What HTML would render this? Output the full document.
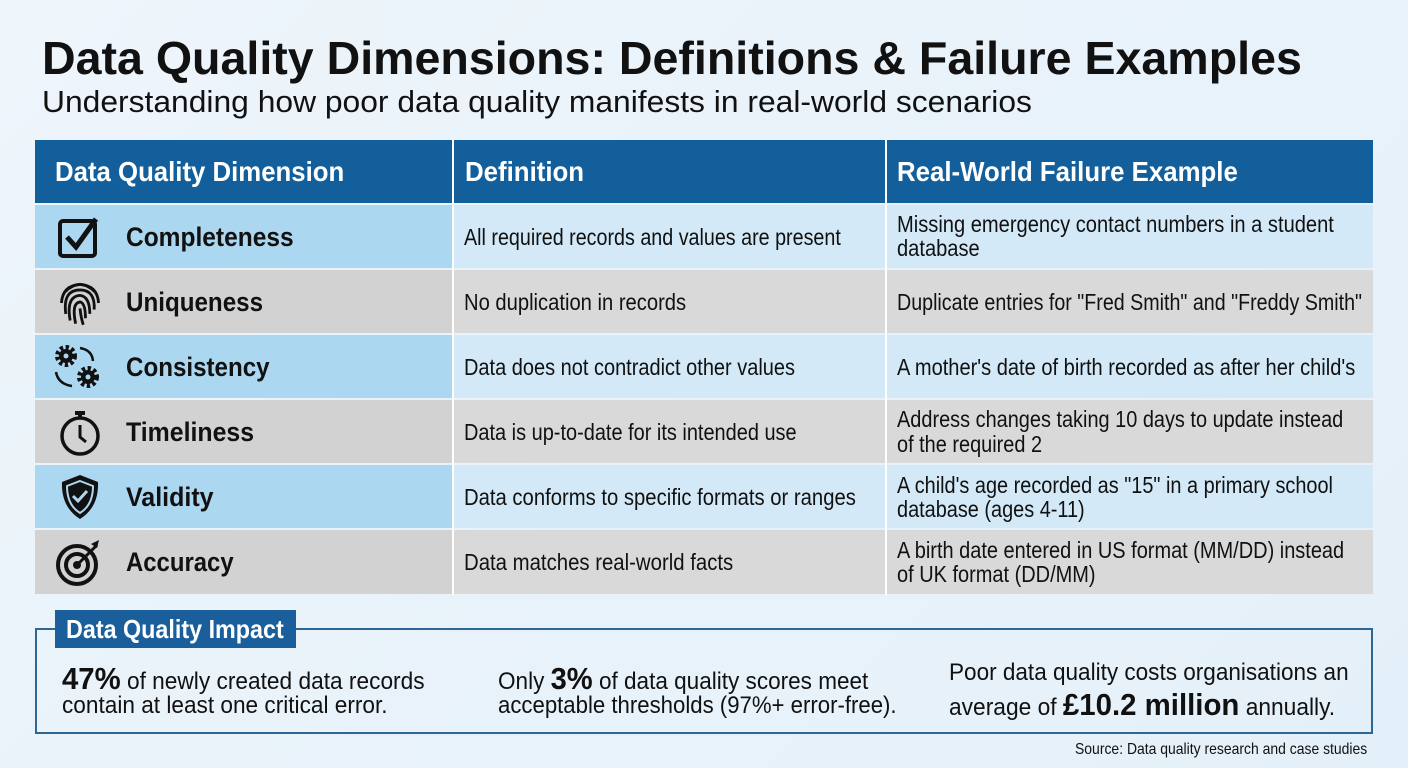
<!DOCTYPE html>
<html><head><meta charset="utf-8"><style>
*{margin:0;padding:0;box-sizing:border-box}
body{width:1408px;height:768px;overflow:hidden;background:linear-gradient(135deg,#eef5fb,#e4f0f9);font-family:"Liberation Sans",sans-serif;color:#111;position:relative}
.a{position:absolute}
.f{position:absolute;white-space:nowrap;transform-origin:0 50%;line-height:1}
.c{position:absolute}
.hd{background:#125f9b}
.b1{background:#acd7f1}.b2{background:#d3e9f7}
.g1{background:#d2d2d2}.g2{background:#d9d9d9}
.nm{font-weight:bold;font-size:27px}
.tx{font-size:23px}
</style></head><body>
<div class="f" style="left:42px;top:35px;font-size:46px;font-weight:bold;--w:1260">Data Quality Dimensions: Definitions &amp; Failure Examples</div>
<div class="f" style="left:42px;top:86px;font-size:31px;--w:990">Understanding how poor data quality manifests in real-world scenarios</div>

<div class="c hd" style="left:35px;top:140px;width:1338px;height:63px"></div>
<div class="c" style="left:452px;top:140px;width:2px;height:455px;background:#fff"></div>
<div class="c" style="left:885px;top:140px;width:2px;height:455px;background:#fff"></div>
<div class="f" style="left:55px;top:158px;font-size:28px;font-weight:bold;color:#fff;--w:289">Data Quality Dimension</div>
<div class="f" style="left:465px;top:158px;font-size:28px;font-weight:bold;color:#fff;--w:119">Definition</div>
<div class="f" style="left:897px;top:158px;font-size:28px;font-weight:bold;color:#fff;--w:341">Real-World Failure Example</div>

<div class="c b1" style="left:35px;top:205px;width:417px;height:63px"></div><div class="c b2" style="left:454px;top:205px;width:431px;height:63px"></div><div class="c b2" style="left:887px;top:205px;width:486px;height:63px"></div>
<div class="c g1" style="left:35px;top:270px;width:417px;height:63px"></div><div class="c g2" style="left:454px;top:270px;width:431px;height:63px"></div><div class="c g2" style="left:887px;top:270px;width:486px;height:63px"></div>
<div class="c b1" style="left:35px;top:335px;width:417px;height:63px"></div><div class="c b2" style="left:454px;top:335px;width:431px;height:63px"></div><div class="c b2" style="left:887px;top:335px;width:486px;height:63px"></div>
<div class="c g1" style="left:35px;top:400px;width:417px;height:63px"></div><div class="c g2" style="left:454px;top:400px;width:431px;height:63px"></div><div class="c g2" style="left:887px;top:400px;width:486px;height:63px"></div>
<div class="c b1" style="left:35px;top:465px;width:417px;height:63px"></div><div class="c b2" style="left:454px;top:465px;width:431px;height:63px"></div><div class="c b2" style="left:887px;top:465px;width:486px;height:63px"></div>
<div class="c g1" style="left:35px;top:530px;width:417px;height:64px"></div><div class="c g2" style="left:454px;top:530px;width:431px;height:64px"></div><div class="c g2" style="left:887px;top:530px;width:486px;height:64px"></div>

<svg class="a" style="left:55px;top:212px" width="50" height="50" viewBox="0 0 50 50"><rect x="5" y="9" width="35" height="35" rx="3" fill="none" stroke="#111" stroke-width="4"/><path d="M12 25 L21 35 L41 7" fill="none" stroke="#111" stroke-width="5"/></svg>
<svg class="a" style="left:56px;top:276px" width="48" height="54" viewBox="0 0 44 48" fill="none" stroke="#111" stroke-width="2.6"><path d="M8 14 Q22 0 36 14"/><path d="M5 24 Q6 8 22 7 Q38 8 39 24"/><path d="M9 34 Q6 12 22 12 Q36 12 35 30"/><path d="M13 40 Q9 18 22 17 Q31 18 31 34"/><path d="M18 43 Q14 24 22 23 Q27 24 27 38"/><path d="M22 29 Q23 38 25 44"/></svg>
<svg class="a" style="left:52px;top:342px" width="52" height="50" viewBox="0 0 52 50"><circle cx="14" cy="14" r="8" fill="none" stroke="#111" stroke-width="6" stroke-dasharray="3 2.3"/><circle cx="14" cy="14" r="7" fill="#111"/><circle cx="14" cy="14" r="2.5" fill="#acd7f1"/><circle cx="36" cy="35" r="8" fill="none" stroke="#111" stroke-width="6" stroke-dasharray="3 2.3"/><circle cx="36" cy="35" r="7" fill="#111"/><circle cx="36" cy="35" r="2.5" fill="#acd7f1"/><path d="M28 6 Q40 8 41 19" fill="none" stroke="#111" stroke-width="2.5"/><path d="M4 30 Q6 42 20 44" fill="none" stroke="#111" stroke-width="2.5"/></svg>
<svg class="a" style="left:58px;top:406px" width="46" height="52" viewBox="0 0 46 52"><circle cx="22" cy="30" r="18" fill="none" stroke="#111" stroke-width="3.5"/><rect x="17" y="5" width="10" height="4" fill="#111"/><rect x="20" y="8" width="4" height="5" fill="#111"/><path d="M22 19 V31 L28 36" fill="none" stroke="#111" stroke-width="3"/></svg>
<svg class="a" style="left:58px;top:472px" width="46" height="50" viewBox="0 0 46 50"><path d="M22 3 L40 10 Q41 35 22 47 Q3 35 4 10 Z" fill="#111"/><path d="M22 9 L35 14 Q35 33 22 41 Q9 33 9 14 Z" fill="none" stroke="#acd7f1" stroke-width="2"/><path d="M15 24 L20 29 L29 19" fill="none" stroke="#acd7f1" stroke-width="3"/></svg>
<svg class="a" style="left:55px;top:538px" width="50" height="50" viewBox="0 0 50 50"><circle cx="22" cy="27" r="19" fill="none" stroke="#111" stroke-width="4"/><circle cx="22" cy="27" r="11" fill="none" stroke="#111" stroke-width="4"/><circle cx="22" cy="27" r="4" fill="#111"/><path d="M22 27 L42 7" stroke="#111" stroke-width="3"/><path d="M36 6 L44 2 L42 10 Z" fill="#111"/></svg>

<div class="f nm" style="left:126px;top:224px;--w:168">Completeness</div>
<div class="f nm" style="left:126px;top:289px;--w:137">Uniqueness</div>
<div class="f nm" style="left:126px;top:354px;--w:144">Consistency</div>
<div class="f nm" style="left:126px;top:419px;--w:128">Timeliness</div>
<div class="f nm" style="left:126px;top:484px;--w:88">Validity</div>
<div class="f nm" style="left:126px;top:549px;--w:108">Accuracy</div>

<div class="f tx" style="left:464px;top:226px;--w:377">All required records and values are present</div>
<div class="f tx" style="left:464px;top:291px;--w:222">No duplication in records</div>
<div class="f tx" style="left:464px;top:356px;--w:331">Data does not contradict other values</div>
<div class="f tx" style="left:464px;top:421px;--w:333">Data is up-to-date for its intended use</div>
<div class="f tx" style="left:464px;top:486px;--w:392">Data conforms to specific formats or ranges</div>
<div class="f tx" style="left:464px;top:551px;--w:269">Data matches real-world facts</div>

<div class="f tx" style="left:897px;top:213px;--w:437">Missing emergency contact numbers in a student</div>
<div class="f tx s" style="left:897px;top:237px">database</div>
<div class="f tx" style="left:897px;top:291px;--w:465">Duplicate entries for "Fred Smith" and "Freddy Smith"</div>
<div class="f tx" style="left:897px;top:356px;--w:458">A mother's date of birth recorded as after her child's</div>
<div class="f tx" style="left:897px;top:408px;--w:446">Address changes taking 10 days to update instead</div>
<div class="f tx s" style="left:897px;top:433px">of the required 2</div>
<div class="f tx" style="left:897px;top:474px;--w:436">A child's age recorded as "15" in a primary school</div>
<div class="f tx s" style="left:897px;top:498px">database (ages 4-11)</div>
<div class="f tx" style="left:897px;top:539px;--w:447">A birth date entered in US format (MM/DD) instead</div>
<div class="f tx s" style="left:897px;top:563px">of UK format (DD/MM)</div>

<div class="c" style="left:35px;top:628px;width:1338px;height:106px;border:2px solid #2c6795"></div>
<div class="c" style="left:55px;top:610px;width:241px;height:38px;background:#1a5f9c"></div>
<div class="f" style="left:66px;top:616px;font-size:26px;font-weight:bold;color:#fff;--w:218">Data Quality Impact</div>

<div class="f" style="left:62px;top:663px;font-size:24px;--w:363"><b style="font-size:31px">47%</b> of newly created data records</div>
<div class="f" style="left:62px;top:694px;font-size:24px;--w:326">contain at least one critical error.</div>
<div class="f" style="left:498px;top:663px;font-size:24px;--w:370">Only <b style="font-size:31px">3%</b> of data quality scores meet</div>
<div class="f" style="left:498px;top:694px;font-size:24px;--w:399">acceptable thresholds (97%+ error-free).</div>
<div class="f" style="left:949px;top:661px;font-size:24px;--w:400">Poor data quality costs organisations an</div>
<div class="f" style="left:949px;top:689px;font-size:24px;--w:386">average of <b style="font-size:31px">£10.2 million</b> annually.</div>
<div class="f" style="left:1075px;top:742px;font-size:16px;--w:292">Source: Data quality research and case studies</div>

<script>
var last=1;
document.querySelectorAll('.f').forEach(function(e){
  var w=parseFloat(getComputedStyle(e).getPropertyValue('--w'));
  var s;
  if(e.classList.contains('s')||isNaN(w)){s=last;}else{s=w/e.scrollWidth;last=s;}
  e.style.transform='scaleX('+s+')';
});
</script>
</body></html>
